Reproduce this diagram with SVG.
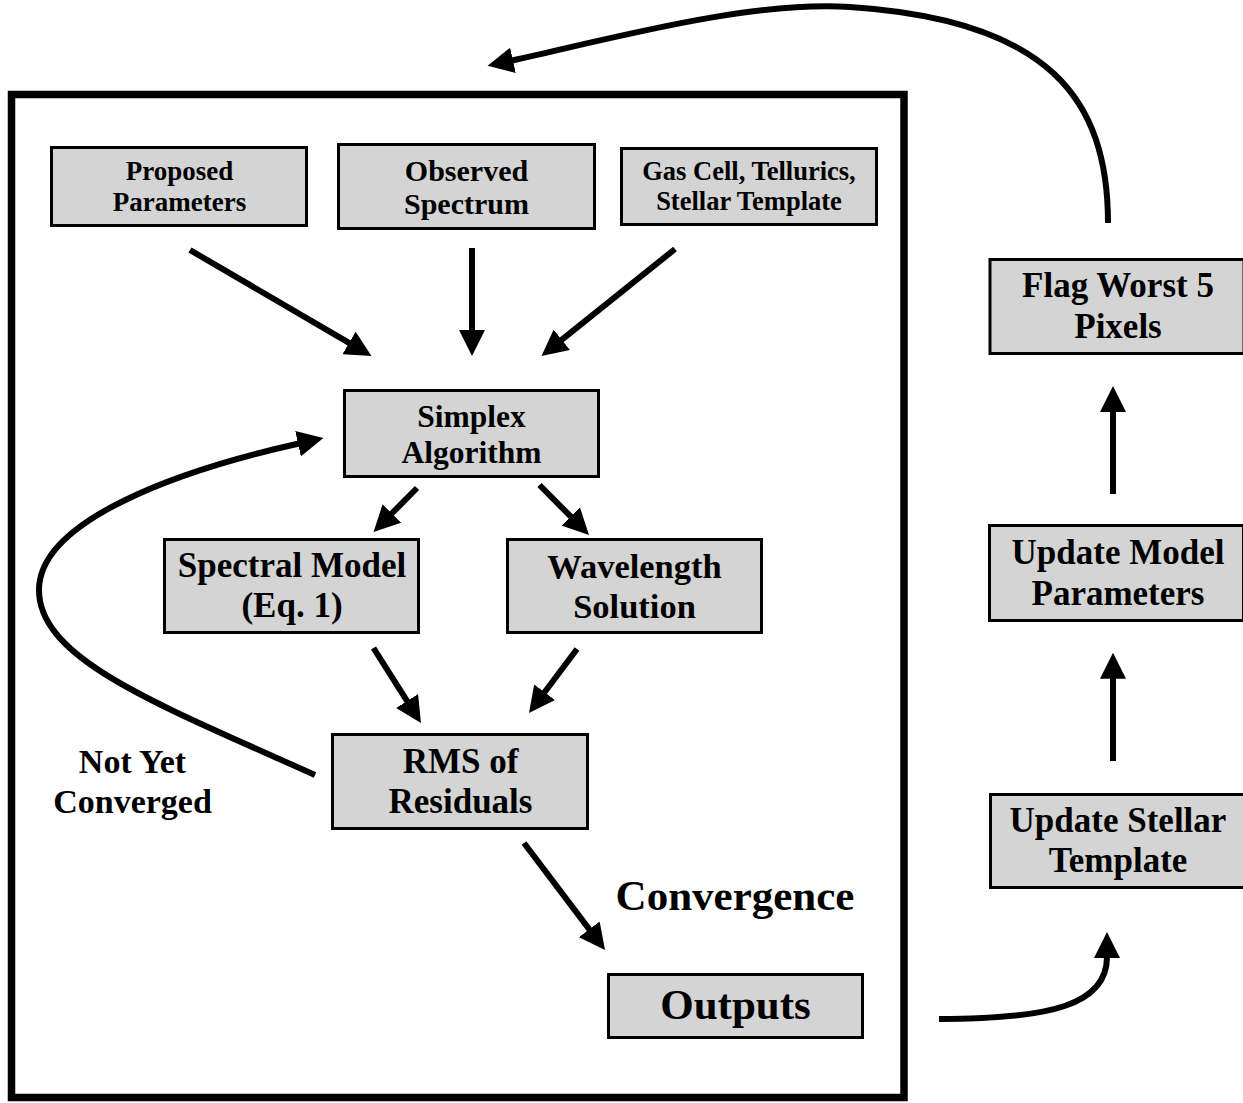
<svg xmlns="http://www.w3.org/2000/svg" width="1243" height="1103" viewBox="0 0 1243 1103">
<style>
.box{fill:#d4d4d4;stroke:#000;stroke-width:3}
.t{font-family:"Liberation Serif","Times New Roman",serif;font-weight:bold;fill:#000;text-anchor:middle}
.c{fill:none;stroke:#000;stroke-width:6}
</style>
<defs>
<marker id="ah" markerUnits="userSpaceOnUse" viewBox="0 0 26 26" refX="1" refY="13" markerWidth="26" markerHeight="26" orient="auto">
<path d="M0,0 L26,13 L0,26 z" fill="#000"/>
</marker>
</defs>
<rect width="1243" height="1103" fill="#fff"/>
<rect id="frame" x="11.5" y="94.5" width="892.5" height="1003" fill="none" stroke="#000" stroke-width="7.5"/>

<g id="proposed">
<rect class="box" x="51.5" y="147.5" width="255" height="78"/>
<text class="t" x="179.5" y="180" font-size="27">Proposed</text>
<text class="t" x="179.5" y="210.7" font-size="27">Parameters</text>
</g>
<g id="observed">
<rect class="box" x="338.5" y="144.5" width="256" height="84"/>
<text class="t" x="466.5" y="180.7" font-size="30">Observed</text>
<text class="t" x="466.5" y="214" font-size="30">Spectrum</text>
</g>
<g id="gascell">
<rect class="box" x="621.5" y="148.5" width="255" height="76"/>
<text class="t" x="749" y="180" font-size="26.5">Gas Cell, Tellurics,</text>
<text class="t" x="749" y="210" font-size="26.5">Stellar Template</text>
</g>
<g id="simplex">
<rect class="box" x="344.5" y="390.5" width="254" height="86"/>
<text class="t" x="471.5" y="426.7" font-size="31.5">Simplex</text>
<text class="t" x="471.5" y="462.7" font-size="31.5">Algorithm</text>
</g>
<g id="spectral">
<rect class="box" x="164.5" y="539.5" width="254" height="93"/>
<text class="t" x="292" y="577" font-size="35">Spectral Model</text>
<text class="t" x="292" y="617" font-size="35">(Eq. 1)</text>
</g>
<g id="wavelength">
<rect class="box" x="507.5" y="539.5" width="254" height="93"/>
<text class="t" x="634.5" y="577.5" font-size="34.5">Wavelength</text>
<text class="t" x="634.5" y="617.5" font-size="34.5">Solution</text>
</g>
<g id="rms">
<rect class="box" x="332.5" y="734.5" width="255" height="94"/>
<text class="t" x="460.5" y="773" font-size="35">RMS of</text>
<text class="t" x="460.5" y="813" font-size="35">Residuals</text>
</g>
<g id="outputs">
<rect class="box" x="608.5" y="974.5" width="254" height="63"/>
<text class="t" x="735.5" y="1019" font-size="43">Outputs</text>
</g>
<g id="flag">
<rect class="box" x="990" y="259.5" width="254" height="94"/>
<text class="t" x="1118" y="297" font-size="35">Flag Worst 5</text>
<text class="t" x="1118" y="337.5" font-size="35">Pixels</text>
</g>
<g id="updatemodel">
<rect class="box" x="989.5" y="525.5" width="254" height="95"/>
<text class="t" x="1118" y="563.5" font-size="35">Update Model</text>
<text class="t" x="1118" y="604.5" font-size="35">Parameters</text>
</g>
<g id="updatestellar">
<rect class="box" x="990.5" y="794.5" width="254" height="93"/>
<text class="t" x="1118" y="832" font-size="35">Update Stellar</text>
<text class="t" x="1118" y="872" font-size="35">Template</text>
</g>

<g id="labels">
<text class="t" x="132.5" y="773" font-size="34">Not Yet</text>
<text class="t" x="132.5" y="813" font-size="34">Converged</text>
<text class="t" x="735" y="910" font-size="43">Convergence</text>
</g>

<g id="connectors" class="c">
<path class="c" d="M190,250 L349.9,343.4" marker-end="url(#ah)"/>
<path class="c" d="M472,248 L472,331" marker-end="url(#ah)"/>
<path class="c" d="M675,249 L561,340.4" marker-end="url(#ah)"/>
<path class="c" d="M417,488 L391.1,514.2" marker-end="url(#ah)"/>
<path class="c" d="M539.5,485 L571.4,517.2" marker-end="url(#ah)"/>
<path class="c" d="M373.5,648 L407.6,701.9" marker-end="url(#ah)"/>
<path class="c" d="M577,649 L544,693" marker-end="url(#ah)"/>
<path class="c" d="M524,843 L589.9,930.1" marker-end="url(#ah)"/>
<path class="c" d="M1113,761 L1113,677.7" marker-end="url(#ah)"/>
<path class="c" d="M1113,494 L1113,411" marker-end="url(#ah)"/>
<path class="c" d="M315,775 C160,705 39,660 39,590 C39,520 180,470 299,443.5" marker-end="url(#ah)"/>
<path class="c" d="M939,1019 C1050,1019 1107,1005 1107,957" marker-end="url(#ah)"/>
<path class="c" d="M1108,223 C1108,100 1050,20 850,7 C750,0.5 612,38.5 512,60.5" marker-end="url(#ah)"/>
</g>
</svg>
